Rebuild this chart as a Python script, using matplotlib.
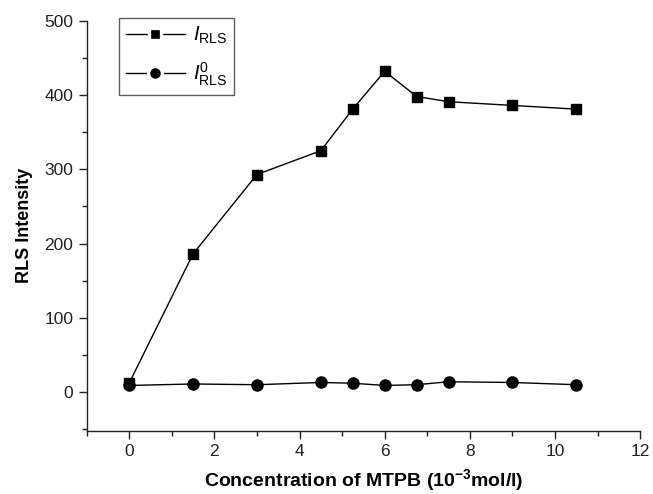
import matplotlib
matplotlib.use("Agg")
import matplotlib.pyplot as plt
from matplotlib.ticker import MultipleLocator
from matplotlib.lines import Line2D
from matplotlib.legend_handler import HandlerTuple

plt.rcParams['font.family'] = ['Liberation Sans', 'DejaVu Sans']
plt.rcParams['mathtext.fontset'] = 'custom'
plt.rcParams['mathtext.rm'] = 'Liberation Sans'
plt.rcParams['mathtext.it'] = 'Liberation Sans:italic'
plt.rcParams['mathtext.bf'] = 'Liberation Sans:bold'

conc = [0, 1.5, 3, 4.5, 5.25, 6, 6.75, 7.5, 9, 10.5]
i_rls = [12, 186, 293, 325, 381, 432, 398, 391, 386, 381]
i0_rls = [9, 11, 10, 13, 12, 9, 10, 14, 13, 10]
labels = [r'$I_{\rm RLS}$', r'$I^{0}_{\rm RLS}$']

fig = plt.figure(figsize=(6.53, 4.94), dpi=100)
ax = fig.add_axes([0.1325, 0.128, 0.848, 0.830])

ax.plot(conc, i_rls, color='black', lw=1.0, marker='s', ms=6.5)
ax.plot(conc, i0_rls, color='black', lw=1.0, marker='o', ms=8)

ax.set_xlim(-1, 12)
ax.set_ylim(-52, 500)
ax.xaxis.set_major_locator(MultipleLocator(2))
ax.xaxis.set_minor_locator(MultipleLocator(1))
ax.yaxis.set_major_locator(MultipleLocator(100))
ax.yaxis.set_minor_locator(MultipleLocator(50))
ax.spines['top'].set_visible(False)
ax.spines['right'].set_visible(False)
for s in ('left', 'bottom'):
    ax.spines[s].set_linewidth(1.0)
    ax.spines[s].set_color('#222222')
ax.tick_params(axis='both', which='major', direction='out', length=6, width=1,
               labelsize=12.5, colors='#222222')
ax.tick_params(axis='both', which='minor', direction='out', length=3.5, width=1,
               colors='#222222')

ax.set_xlabel(r'Concentration of MTPB (10$^{\mathbf{-3}}$mol/l)', fontsize=14,
              fontweight='bold', labelpad=6)
ax.set_ylabel('RLS Intensity', fontsize=13, fontweight='bold', labelpad=8)

# legend handles: line with a gap around the marker
h1 = (Line2D([], [], color='black', lw=1.0),
      Line2D([], [], color='black', lw=0, marker='s', ms=8,
             markeredgecolor='white', markeredgewidth=2.4, markerfacecolor='black'))
h2 = (Line2D([], [], color='black', lw=1.0),
      Line2D([], [], color='black', lw=0, marker='o', ms=10,
             markeredgecolor='white', markeredgewidth=2.4, markerfacecolor='black'))
leg = ax.legend([h1, h2], labels, handler_map={tuple: HandlerTuple(ndivide=1, pad=0)},
                loc='upper left', bbox_to_anchor=(0.059, 1.007), fontsize=14.5,
                frameon=True, fancybox=False, edgecolor='#333333',
                handlelength=2.9, labelspacing=0.7, borderpad=0.35,
                handletextpad=0.4, borderaxespad=0.0)
leg.get_frame().set_linewidth(1.0)

fig.savefig('out.png', dpi=100)
